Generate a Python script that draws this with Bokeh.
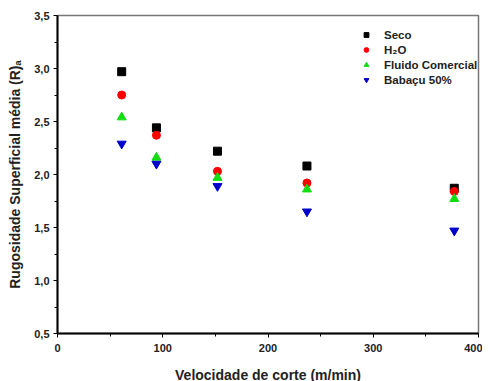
from bokeh.plotting import figure
from bokeh.models import Legend, LegendItem, Range1d, FixedTicker
from bokeh.embed import file_html
from bokeh.resources import INLINE

velocidade = [61, 94, 152, 237, 377]
seco = [2.97, 2.44, 2.22, 2.08, 1.87]
h2o = [2.75, 2.37, 2.03, 1.92, 1.84]
fluido = [2.54, 2.16, 1.97, 1.86, 1.77]
babacu = [2.29, 2.10, 1.89, 1.65, 1.47]

labels = ["Seco", "H₂O", "Fluido Comercial", "Babaçu 50%"]
y_ticks = [0.5, 1.0, 1.5, 2.0, 2.5, 3.0, 3.5]
x_ticks = [0, 100, 200, 300, 400]

FONT = "Liberation Sans"

p = figure(frame_width=421, frame_height=318, output_backend="svg", toolbar_location=None,
           x_range=Range1d(0, 400), y_range=Range1d(0.5, 3.5),
           min_border_left=57, min_border_top=15, min_border_right=4, min_border_bottom=40)
p.background_fill_color = "white"
p.border_fill_color = "white"
p.xgrid.visible = False
p.ygrid.visible = False
p.outline_line_color = "#777777"
p.outline_line_width = 1.5

r1 = p.scatter(velocidade, seco, marker="square", size=8, color="black")
r2 = p.scatter(velocidade, h2o, marker="circle", size=8, color="#ff0000")
r3 = p.scatter(velocidade, fluido, marker="triangle", size=9, color="#11dd11")
r4 = p.scatter(velocidade, babacu, marker="inverted_triangle", size=9, color="#0000cc")

for ax in (p.xaxis[0], p.yaxis[0]):
    ax.axis_line_width = 2
    ax.axis_line_color = "black"
    ax.major_tick_in = 0
    ax.major_tick_out = 4
    ax.minor_tick_in = 0
    ax.minor_tick_out = 3
    ax.major_tick_line_color = "black"
    ax.minor_tick_line_color = "black"
    ax.major_label_text_font = FONT
    ax.major_label_text_font_style = "bold"
    ax.major_label_text_font_size = "11px"
    ax.major_label_text_color = "#222222"
    ax.axis_label_text_font = FONT
    ax.axis_label_text_font_style = "bold"
    ax.axis_label_text_font_size = "14px"
    ax.axis_label_text_color = "#222222"

p.yaxis[0].ticker = FixedTicker(ticks=y_ticks, minor_ticks=[0.75, 1.25, 1.75, 2.25, 2.75, 3.25])
p.yaxis[0].major_label_overrides = {t: f"{t:.1f}".replace(".", ",") for t in y_ticks}
p.xaxis[0].ticker = FixedTicker(ticks=x_ticks, minor_ticks=[50, 150, 250, 350])
p.yaxis[0].axis_label = "Rugosidade Superficial média (R)ₐ"
p.xaxis[0].axis_label = "Velocidade de corte (m/min)"
p.xaxis[0].axis_label_standoff = 12
p.yaxis[0].axis_label_standoff = 8
p.xaxis[0].major_label_standoff = 6
p.yaxis[0].major_label_standoff = 4

legend = Legend(items=[LegendItem(label=l, renderers=[r]) for l, r in zip(labels, [r1, r2, r3, r4])],
                location=(303, 246), border_line_color=None, background_fill_alpha=0,
                padding=0, margin=0, spacing=0, glyph_width=12, glyph_height=15,
                label_height=15, label_standoff=12,
                label_text_font=FONT, label_text_font_style="bold", label_text_font_size="11.5px",
                label_text_color="#222222")
p.add_layout(legend)

open("out.html", "w").write(file_html(p, INLINE))
